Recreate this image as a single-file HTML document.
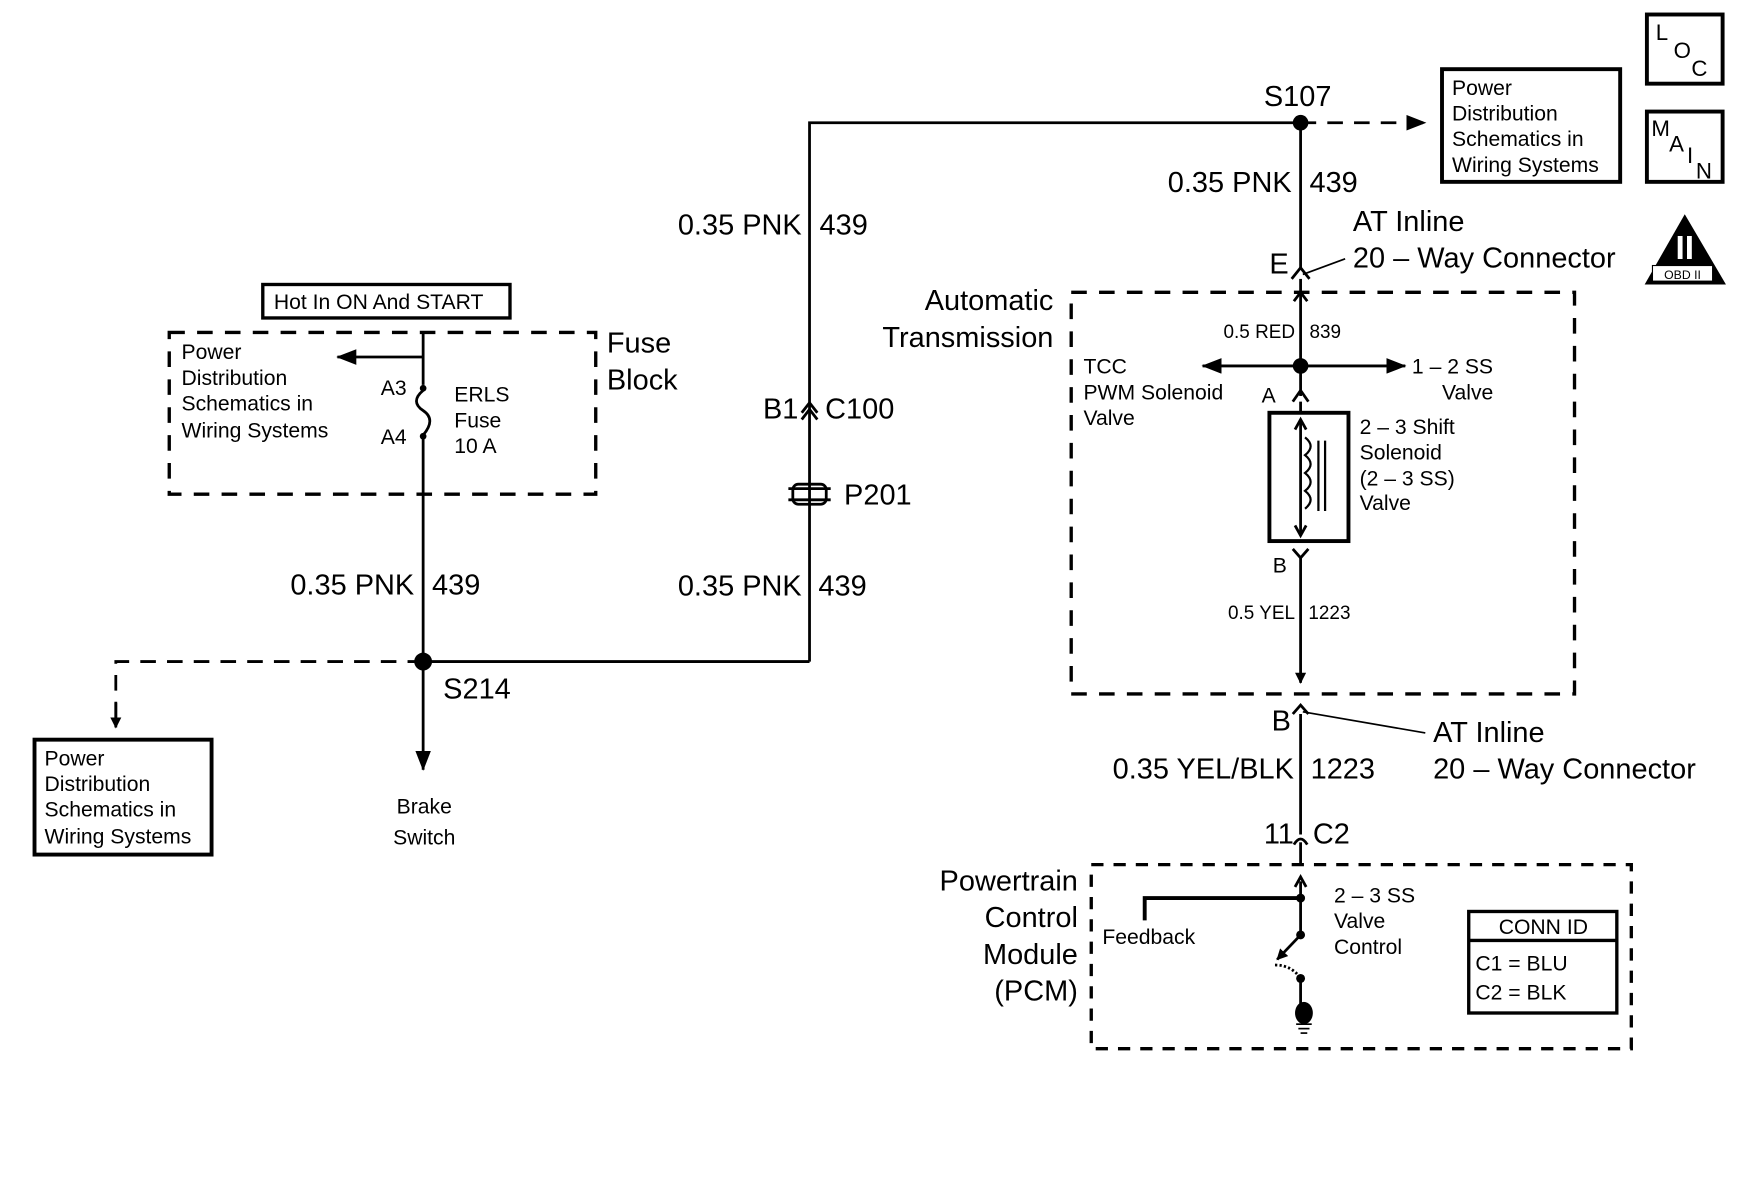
<!DOCTYPE html>
<html><head><meta charset="utf-8"><style>
html,body{margin:0;padding:0;background:#fff;}
svg{display:block;}
text{font-family:"Liberation Sans",sans-serif;fill:#000;}
.L{font-size:26px;}
.S{font-size:19px;}
.T{font-size:17px;}
</style></head><body>
<svg width="1746" height="1177" viewBox="0 0 1568 1055" preserveAspectRatio="none" xmlns="http://www.w3.org/2000/svg">
<defs>
<marker id="ar" markerWidth="10" markerHeight="10" refX="9" refY="5" orient="auto" markerUnits="userSpaceOnUse"><path d="M0,0 L10,5 L0,10z" fill="#000"/></marker>
<marker id="ar2" markerWidth="18" markerHeight="14" refX="17" refY="7" orient="auto" markerUnits="userSpaceOnUse"><path d="M0,0 L18,7 L0,14z" fill="#000"/></marker>
</defs>
<g stroke="#000" stroke-width="2.5" fill="none">
<polyline points="727,593 727,110 1168,110"/>
<line x1="1168" y1="110" x2="1280" y2="110" stroke-dasharray="14,10" marker-end="url(#ar2)"/>
<line x1="1168" y1="110" x2="1168" y2="240"/>
<polyline points="1160,250 1168,240 1176,250"/>
<line x1="1208" y1="232" x2="1170" y2="246" stroke-width="1.5"/>
<line x1="1168" y1="250" x2="1168" y2="262"/>
<polyline points="1162,270 1168,262 1174,270"/>
<rect x="962" y="262" width="452" height="360" stroke-width="3" stroke-dasharray="14,11"/>
<line x1="1168" y1="262" x2="1168" y2="355"/>
<line x1="1168" y1="328" x2="1080" y2="328" marker-end="url(#ar2)"/>
<line x1="1168" y1="328" x2="1262" y2="328" marker-end="url(#ar2)"/>
<polyline points="1161,360 1168,350 1175,360"/>
<line x1="1168" y1="360" x2="1168" y2="370"/>
<rect x="1140" y="370" width="71" height="115" stroke-width="3.5"/>
<line x1="1168" y1="378" x2="1168" y2="478"/>
<polyline points="1163,385 1168,376 1173,385"/>
<polyline points="1163,471 1168,480 1173,471"/>
<path d="M1172,392 q10,8 0,16 q10,8 0,16 q10,8 0,16 q10,8 0,16" stroke-width="2"/>
<line x1="1184" y1="395" x2="1184" y2="458" stroke-width="2"/>
<line x1="1190" y1="395" x2="1190" y2="458" stroke-width="2"/>
<polyline points="1161,492 1168,500 1175,492"/>
<line x1="1168" y1="500" x2="1168" y2="612" marker-end="url(#ar)"/>
<polyline points="1161,640 1168,632 1175,640"/>
<line x1="1280" y1="657" x2="1170" y2="638" stroke-width="1.5"/>
<line x1="1168" y1="640" x2="1168" y2="748"/>
<path d="M1162,757 q6,-10 12,0" />
<line x1="1168" y1="755" x2="1168" y2="775"/>
<rect x="980" y="775" width="485" height="165" stroke-width="3" stroke-dasharray="11,9"/>
<line x1="1168" y1="790" x2="1168" y2="838"/>
<polyline points="1163,795 1168,786 1173,795"/>
<polyline points="1028,825 1028,805 1168,805" stroke-width="3.5"/>
<line x1="1168" y1="838" x2="1147" y2="860" marker-end="url(#ar)"/>
<path d="M1145,865 q15,0 23,12" stroke-dasharray="2,2"/>
<line x1="1168" y1="877" x2="1168" y2="905"/>
<line x1="1164" y1="918" x2="1178" y2="918" stroke-width="1.5"/>
<line x1="1166" y1="922" x2="1176" y2="922" stroke-width="1.5"/>
<line x1="1168" y1="926" x2="1174" y2="926" stroke-width="1.5"/>
<rect x="1319" y="817" width="133" height="91" stroke-width="3"/>
<line x1="1319" y1="843" x2="1452" y2="843" stroke-width="3"/>
<rect x="1295" y="62" width="160" height="101" stroke-width="3.5"/>
<rect x="1479" y="13" width="68" height="62" stroke-width="3.5"/>
<rect x="1479" y="100" width="68" height="63" stroke-width="3.5"/>
<rect x="236" y="255" width="222" height="30" stroke-width="3"/>
<rect x="152" y="298" width="383" height="145" stroke-width="3" stroke-dasharray="14,11"/>
<line x1="380" y1="298" x2="380" y2="345"/>
<line x1="380" y1="320" x2="303" y2="320" marker-end="url(#ar2)"/>
<path d="M380,350 q-12,10 0,18 q12,8 0,22"/>
<line x1="380" y1="392" x2="380" y2="690" marker-end="url(#ar2)"/>
<line x1="380" y1="593" x2="727" y2="593"/>
<polyline points="380,593 104,593 104,645" stroke-dasharray="14,10"/>
<rect x="31" y="663" width="159" height="103" stroke-width="3.5"/>
<polyline points="720,370 727,361 734,370"/>
<polyline points="720,376 727,367 734,376"/>
<line x1="708" y1="438" x2="746" y2="438"/>
<line x1="708" y1="448" x2="746" y2="448"/>
<rect x="712" y="434" width="30" height="18" rx="5"/>
</g>
<line x1="104" y1="630" x2="104" y2="652" stroke="#000" stroke-width="2.5" marker-end="url(#ar)"/>
<g fill="#000">
<circle cx="1168" cy="110" r="7"/>
<circle cx="1168" cy="328" r="7"/>
<circle cx="380" cy="593" r="8"/>
<circle cx="1168" cy="805" r="4"/>
<circle cx="1168" cy="838" r="4"/>
<circle cx="1168" cy="877" r="4"/>
<circle cx="380" cy="348" r="3"/>
<circle cx="380" cy="391" r="3"/>
<ellipse cx="1171" cy="908" rx="8" ry="10"/>
<path d="M1513,192 L1550,255 L1477,255z"/>
</g>
<rect x="1484" y="238" width="54" height="14" fill="#fff" stroke="#000" stroke-width="1"/>
<text x="1511" y="250" font-size="11" text-anchor="middle">OBD II</text>
<text x="1513" y="232" font-size="30" text-anchor="middle" style="fill:#fff;font-weight:bold">II</text>
<text class="L" x="1135" y="95">S107</text>
<text class="S" x="1304" y="85">Power</text>
<text class="S" x="1304" y="108">Distribution</text>
<text class="S" x="1304" y="131">Schematics in</text>
<text class="S" x="1304" y="154">Wiring Systems</text>
<text x="1487" y="36" font-size="20">L</text><text x="1503" y="52" font-size="20">O</text><text x="1519" y="68" font-size="20">C</text>
<text x="1483" y="122" font-size="20">M</text><text x="1499" y="136" font-size="20">A</text><text x="1515" y="146" font-size="20">I</text><text x="1523" y="160" font-size="20">N</text>
<text class="L" x="1160" y="172" text-anchor="end">0.35 PNK</text><text class="L" x="1176" y="172">439</text>
<text class="L" x="1215" y="207">AT Inline</text>
<text class="L" x="1215" y="240">20 – Way Connector</text>
<text class="L" x="1140" y="245">E</text>
<text class="L" x="946" y="278" text-anchor="end">Automatic</text>
<text class="L" x="946" y="311" text-anchor="end">Transmission</text>
<text class="T" x="1163" y="303" text-anchor="end">0.5 RED</text><text class="T" x="1176" y="303">839</text>
<text class="S" x="973" y="335">TCC</text><text class="S" x="973" y="358">PWM Solenoid</text><text class="S" x="973" y="381">Valve</text>
<text class="S" x="1268" y="335">1 – 2 SS</text><text class="S" x="1295" y="358">Valve</text>
<text class="S" x="1133" y="361">A</text>
<text class="S" x="1221" y="389">2 – 3 Shift</text><text class="S" x="1221" y="412">Solenoid</text><text class="S" x="1221" y="435">(2 – 3 SS)</text><text class="S" x="1221" y="457">Valve</text>
<text class="S" x="1143" y="513">B</text>
<text class="T" x="1163" y="555" text-anchor="end">0.5 YEL</text><text class="T" x="1175" y="555">1223</text>
<text class="L" x="1142" y="655">B</text>
<text class="L" x="1287" y="665">AT Inline</text>
<text class="L" x="1287" y="698">20 – Way Connector</text>
<text class="L" x="1162" y="698" text-anchor="end">0.35 YEL/BLK</text><text class="L" x="1177" y="698">1223</text>
<text class="L" x="1162" y="756" text-anchor="end">11</text><text class="L" x="1179" y="756">C2</text>
<text class="L" x="968" y="798" text-anchor="end">Powertrain</text>
<text class="L" x="968" y="831" text-anchor="end">Control</text>
<text class="L" x="968" y="864" text-anchor="end">Module</text>
<text class="L" x="968" y="897" text-anchor="end">(PCM)</text>
<text class="S" x="990" y="846">Feedback</text>
<text class="S" x="1198" y="809">2 – 3 SS</text><text class="S" x="1198" y="832">Valve</text><text class="S" x="1198" y="855">Control</text>
<text class="S" x="1386" y="837" text-anchor="middle">CONN ID</text>
<text class="S" x="1325" y="870">C1 = BLU</text><text class="S" x="1325" y="896">C2 = BLK</text>
<text class="S" x="246" y="277">Hot In ON And START</text>
<text class="L" x="545" y="316">Fuse</text><text class="L" x="545" y="349">Block</text>
<text class="S" x="163" y="322">Power</text><text class="S" x="163" y="345">Distribution</text><text class="S" x="163" y="368">Schematics in</text><text class="S" x="163" y="392">Wiring Systems</text>
<text class="S" x="342" y="354">A3</text><text class="S" x="342" y="398">A4</text>
<text class="S" x="408" y="360">ERLS</text><text class="S" x="408" y="383">Fuse</text><text class="S" x="408" y="406">10 A</text>
<text class="L" x="372" y="533" text-anchor="end">0.35 PNK</text><text class="L" x="388" y="533">439</text>
<text class="L" x="398" y="626">S214</text>
<text class="S" x="381" y="729" text-anchor="middle">Brake</text><text class="S" x="381" y="757" text-anchor="middle">Switch</text>
<text class="S" x="40" y="686">Power</text><text class="S" x="40" y="709">Distribution</text><text class="S" x="40" y="732">Schematics in</text><text class="S" x="40" y="756">Wiring Systems</text>
<text class="L" x="720" y="210" text-anchor="end">0.35 PNK</text><text class="L" x="736" y="210">439</text>
<text class="L" x="717" y="375" text-anchor="end">B1</text><text class="L" x="741" y="375">C100</text>
<text class="L" x="758" y="452">P201</text>
<text class="L" x="720" y="534" text-anchor="end">0.35 PNK</text><text class="L" x="735" y="534">439</text>
</svg>
</body></html>
